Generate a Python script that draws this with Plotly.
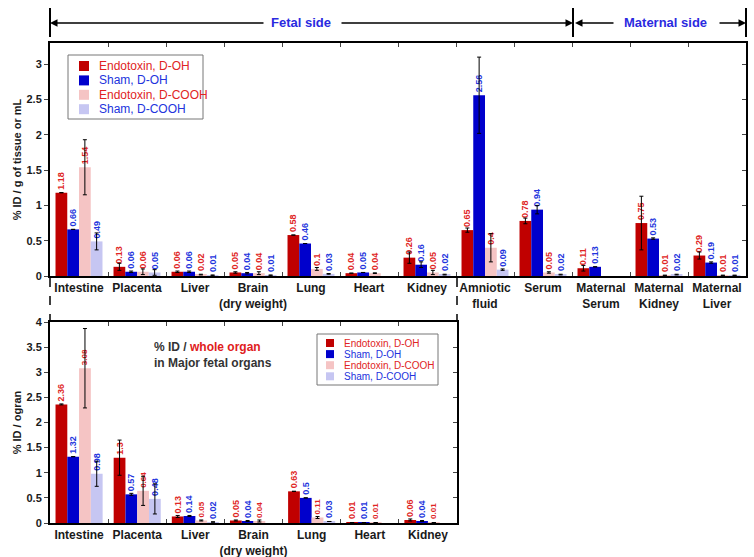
import plotly.graph_objects as go

# categories
cats_top = ["Intestine", "Placenta", "Liver", "Brain<br>(dry weight)", "Lung", "Heart", "Kidney",
            "Amniotic<br>fluid", "Serum", "Maternal<br>Serum", "Maternal<br>Kidney", "Maternal<br>Liver"]
cats_bot = cats_top[:7]

# % ID / g of tissue or mL
top_endo_oh = [1.18, 0.13, 0.06, 0.05, 0.58, 0.04, 0.26, 0.65, 0.78, 0.11, 0.75, 0.29]
top_endo_oh_err = [0, 0.05, 0.01, 0.01, 0, 0, 0.08, 0.03, 0.04, 0.04, 0.38, 0.05]
top_sham_oh = [0.66, 0.06, 0.06, 0.04, 0.46, 0.05, 0.16, 2.56, 0.94, 0.13, 0.53, 0.19]
top_sham_oh_err = [0, 0.01, 0.01, 0.01, 0, 0, 0.04, 0.54, 0.06, 0, 0.01, 0.01]
top_endo_cooh = [1.54, 0.06, 0.02, 0.04, 0.1, 0.04, 0.05, 0.4, 0.05, None, 0.01, 0.01]
top_endo_cooh_err = [0.39, 0.04, 0.005, 0.02, 0.02, 0.005, 0.03, 0.2, 0.01, None, 0, 0]
top_sham_cooh = [0.49, 0.05, 0.01, 0.01, 0.03, None, 0.02, 0.09, 0.02, None, 0.02, 0.01]
top_sham_cooh_err = [0.12, 0.04, 0.005, 0.005, 0.005, None, 0.005, 0.01, 0.005, None, 0.005, 0]

# % ID / whole organ
bot_endo_oh = [2.36, 1.3, 0.13, 0.05, 0.63, 0.01, 0.06]
bot_endo_oh_err = [0.01, 0.35, 0.02, 0.01, 0, 0, 0.02]
bot_sham_oh = [1.32, 0.57, 0.14, 0.04, 0.5, 0.01, 0.04]
bot_sham_oh_err = [0, 0.02, 0.01, 0.01, 0, 0, 0.01]
bot_endo_cooh = [3.08, 0.64, 0.05, 0.04, 0.11, 0.01, 0.01]
bot_endo_cooh_err = [0.79, 0.29, 0.01, 0.02, 0.02, 0, 0]
bot_sham_cooh = [0.98, 0.48, 0.02, None, 0.03, None, None]
bot_sham_cooh_err = [0.25, 0.3, 0.005, None, 0, None, None]

RED_TXT = "#e02424"
BLUE_TXT = "#2233dd"
FONT = "Liberation Sans, Arial, sans-serif"
W, H = 754, 557

series = [
    ("Endotoxin, D-OH", "#c00000", RED_TXT),
    ("Sham, D-OH", "#0000cc", BLUE_TXT),
    ("Endotoxin, D-COOH", "#f5c4c4", RED_TXT),
    ("Sham, D-COOH", "#c6c6f2", BLUE_TXT),
]
top_data = [(top_endo_oh, top_endo_oh_err), (top_sham_oh, top_sham_oh_err),
            (top_endo_cooh, top_endo_cooh_err), (top_sham_cooh, top_sham_cooh_err)]
bot_data = [(bot_endo_oh, bot_endo_oh_err), (bot_sham_oh, bot_sham_oh_err),
            (bot_endo_cooh, bot_endo_cooh_err), (bot_sham_cooh, bot_sham_cooh_err)]


def lbl(v):
    return "" if v is None else f"{v:g}"


def px_x(p):
    return p / W


def px_y(p):
    return 1 - p / H


fig = go.Figure()

for (name, col, tcol), (vals, errs), (bvals, berrs) in zip(series, top_data, bot_data):
    fig.add_trace(go.Bar(
        x=cats_top, y=vals, name=name, marker_color=col, marker_line_width=0,
        error_y=dict(type="data", array=errs, color="black", thickness=1, width=2),
        text=[lbl(v) for v in vals], textposition="outside", textangle=-90,
        textfont=dict(color=tcol, size=9, family=FONT, weight="bold"),
        constraintext="none", cliponaxis=False, showlegend=False,
        xaxis="x", yaxis="y", offsetgroup=name,
    ))
    small = name == "Endotoxin, D-COOH"
    fig.add_trace(go.Bar(
        x=cats_bot, y=bvals, name=name, marker_color=col, marker_line_width=0,
        error_y=dict(type="data", array=berrs, color="black", thickness=1, width=2),
        text=[lbl(v) for v in bvals], textposition="outside", textangle=-90,
        textfont=dict(color=tcol, size=8 if small else 9, family=FONT, weight="bold"),
        constraintext="none", cliponaxis=False, showlegend=False,
        xaxis="x2", yaxis="y2", offsetgroup=name,
    ))

axis_common = dict(showline=True, linecolor="black", linewidth=2, showgrid=False,
                   zeroline=False, automargin=False)
tickfont = dict(family=FONT, size=12, color="#1a1a1a", weight="bold")

fig.update_layout(
    width=W, height=H,
    margin=dict(l=0, r=0, t=0, b=0),
    paper_bgcolor="white", plot_bgcolor="white",
    font=dict(family=FONT, color="#1a1a1a"),
    barmode="group", bargap=0.19, bargroupgap=0,
    showlegend=False,
    xaxis=dict(domain=[px_x(50), px_x(746)], anchor="y", range=[-0.5, 11.5],
               ticks="inside", tickson="boundaries", ticklen=4, mirror="ticks",
               tickangle=0, tickfont=tickfont, **axis_common),
    yaxis=dict(domain=[px_y(276), px_y(43)], anchor="x", range=[0, 3.3], dtick=0.5,
               ticks="outside", ticklen=4, mirror=True, tickfont=dict(tickfont, size=11),
               title=dict(text="% ID / g of tissue or mL", standoff=3,
                          font=dict(family=FONT, size=11, weight="bold")),
               **axis_common),
    yaxis3=dict(overlaying="y", side="right", anchor="x", range=[0, 3.3], dtick=0.5,
                ticks="inside", ticklen=4, showticklabels=False, showgrid=False,
                zeroline=False, showline=False, automargin=False),
    xaxis2=dict(domain=[px_x(50), px_x(457)], anchor="y2", range=[-0.5, 6.5],
                ticks="inside", tickson="boundaries", ticklen=4, mirror="ticks",
                tickangle=0, tickfont=tickfont, **axis_common),
    yaxis2=dict(domain=[px_y(523), px_y(322)], anchor="x2", range=[0, 4], dtick=0.5,
                ticks="outside", ticklen=4, mirror=True, tickfont=dict(tickfont, size=11),
                title=dict(text="% ID / ogran", standoff=3,
                           font=dict(family=FONT, size=11, weight="bold")),
                **axis_common),
    yaxis4=dict(overlaying="y2", side="right", anchor="x2", range=[0, 4], dtick=0.5,
                ticks="inside", ticklen=4, showticklabels=False, showgrid=False,
                zeroline=False, showline=False, automargin=False),
)

# invisible helpers so the right-side tick axes are drawn
fig.add_trace(go.Scatter(x=[None], y=[None], xaxis="x", yaxis="y3", showlegend=False, hoverinfo="skip"))
fig.add_trace(go.Scatter(x=[None], y=[None], xaxis="x2", yaxis="y4", showlegend=False, hoverinfo="skip"))


def draw_legend(x0, y0, x1, y1, row0, step, sq, tx, fsize):
    fig.add_shape(type="rect", xref="paper", yref="paper",
                  x0=px_x(x0), x1=px_x(x1), y0=px_y(y1), y1=px_y(y0),
                  line=dict(color="#777777", width=1), fillcolor="white", layer="above")
    for i, (name, col, tcol) in enumerate(series):
        yc = row0 + i * step
        fig.add_shape(type="rect", xref="paper", yref="paper",
                      x0=px_x(tx - sq - 8), x1=px_x(tx - 8),
                      y0=px_y(yc + sq / 2), y1=px_y(yc - sq / 2),
                      line=dict(width=0), fillcolor=col, layer="above")
        fig.add_annotation(x=px_x(tx), y=px_y(yc), xref="paper", yref="paper",
                           xanchor="left", yanchor="middle", showarrow=False, text=name,
                           font=dict(family=FONT, size=fsize, color=tcol))


draw_legend(68, 55, 203, 119, 66, 14.4, 10, 97, 12)
draw_legend(317, 334, 438, 385, 343, 11.1, 8, 342, 10)

# header: fetal / maternal side
for xp in [50, 573, 746]:
    fig.add_shape(type="line", xref="paper", yref="paper",
                  x0=px_x(xp), x1=px_x(xp), y0=px_y(8), y1=px_y(37),
                  line=dict(color="black", width=2))

arrows = [(50, 215), (573, -233), (575, 40), (746, -28)]
for head, off in arrows:
    fig.add_annotation(x=px_x(head), y=px_y(23), xref="paper", yref="paper",
                       ax=off, ay=0, axref="pixel", ayref="pixel", text="",
                       showarrow=True, arrowhead=2, arrowsize=1, arrowwidth=1.5,
                       arrowcolor="black")

for txt, xc in [("Fetal side", 301), ("Maternal side", 665)]:
    fig.add_annotation(x=px_x(xc), y=px_y(23), xref="paper", yref="paper",
                       xanchor="center", yanchor="middle", text=txt, showarrow=False,
                       font=dict(family=FONT, size=13, color="#2a2ae0", weight="bold"))

# dashed connectors to the zoomed panel
for xp in [50, 457]:
    fig.add_shape(type="line", xref="paper", yref="paper",
                  x0=px_x(xp), x1=px_x(xp), y0=px_y(278), y1=px_y(322),
                  line=dict(color="black", width=1.5, dash="dash"))

fig.add_annotation(x=px_x(152), y=px_y(338), xref="paper", yref="paper",
                   xanchor="left", yanchor="top", align="left", showarrow=False,
                   text="% ID / <span style='color:#e02020'>whole organ</span><br>in Major fetal organs",
                   font=dict(family=FONT, size=12, color="#333333", weight="bold"))

fig.write_html("out.html", config={"displayModeBar": False},
               post_script="document.body.style.margin='0';")
